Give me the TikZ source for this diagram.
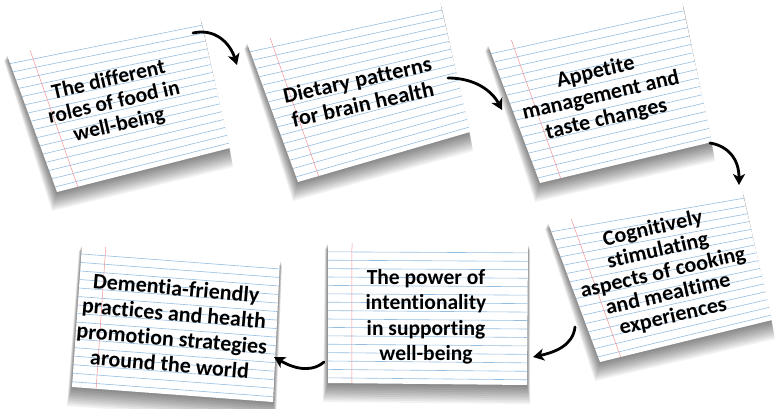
\documentclass[tikz,border=0pt]{standalone}
\usepackage{fontspec}
\setmainfont{Carlito}[Ligatures=NoCommon]
\usetikzlibrary{calc,arrows.meta}
\definecolor{ruleblue}{RGB}{150,190,225}
\definecolor{marginred}{RGB}{240,150,150}
\tikzset{
  cardtext/.style={align=center, text=black, inner sep=0pt},
  flowarrow/.style={line width=2.8pt, line cap=round, -{Stealth[length=11pt,width=12pt,inset=3pt]}},
  ruling/.style={ruleblue, line width=0.6pt},
  marginline/.style={marginred, line width=0.5pt},
}
\newcommand\indexcard[5]{%
  \coordinate (#1tl) at (#2);
  \coordinate (#1tr) at (#3);
  \coordinate (#1br) at (#4);
  \coordinate (#1bl) at (#5);
  \foreach \k in {1,...,10}{
    \fill[black,opacity=0.055] ($(#1tl)+(-0.3*\k,-0.6*\k)$) -- ($(#1tr)+(0.2*\k,-0.6*\k)$) -- ($(#1br)+(0.3*\k,-1.9*\k)$) -- ($(#1bl)+(-0.5*\k,-1.9*\k)$) -- cycle;
  }
  \fill[white] (#1tl) -- (#1tr) -- (#1br) -- (#1bl) -- cycle;
  \foreach \i in {0,...,15}{
    \pgfmathsetmacro\tpos{0.063+\i*0.06}
    \draw[ruling] ($(#1tl)!\tpos!(#1bl)$) -- ($(#1tr)!\tpos!(#1br)$);
  }
  \draw[marginline] ($(#1tl)!0.12!(#1tr)$) -- ($(#1bl)!0.12!(#1br)$);
}
\begin{document}
\begin{tikzpicture}[x=1pt,y=1pt]
\useasboundingbox[fill=white] (0,0) rectangle (776,409);
% cards
\indexcard{k1}{7,354}{200,392}{230,261}{57,217}
\indexcard{k2}{247,366}{440,407}{470,277}{298,227}
\indexcard{k3}{488,364}{682,407}{712,267}{540,226}
\indexcard{k4}{548,186}{742,219}{772,89}{600,47}
\indexcard{k5}{328,166}{528,165}{527,24}{328,26}
\indexcard{k6}{82,164}{280,149}{273,7}{72,22}
% texts
\node[cardtext, rotate=13, font=\bfseries\fontsize{21.5}{23}\selectfont] (c1) at (114,306) {The different\\roles of food in\\well-being};
\node[cardtext, rotate=12.5, xscale=1.02, font=\bfseries\fontsize{22}{25}\selectfont] (c2) at (360,317) {Dietary patterns\\for brain health};
\node[cardtext, rotate=13, font=\bfseries\fontsize{22}{24}\selectfont] (c3) at (601,313) {Appetite\\management and\\taste changes};
\node[cardtext, rotate=13, xscale=1.03, font=\bfseries\fontsize{21.5}{22.5}\selectfont] (c4) at (663,136) {Cognitively\\stimulating\\aspects of cooking\\and mealtime\\experiences};
\node[cardtext, font=\bfseries\fontsize{21.5}{25.5}\selectfont] (c5) at (426,92) {The power of\\intentionality\\in supporting\\well-being};
\node[cardtext, rotate=-5, font=\bfseries\fontsize{22}{25.5}\selectfont] (c6) at (173,83) {Dementia-friendly\\practices and health\\promotion strategies\\around the world};
% arrows
\coordinate (a1s) at (193,376); \coordinate (a1e) at (237,344);
\coordinate (a2s) at (448,331); \coordinate (a2e) at (502,299);
\coordinate (a3s) at (710,266); \coordinate (a3e) at (739,224);
\coordinate (a4s) at (575,82);  \coordinate (a4e) at (533,52);
\coordinate (a5s) at (324,47);  \coordinate (a5e) at (274,52);
\draw[flowarrow] (a1s) .. controls (215,381) and (230,366) .. (a1e);
\draw[flowarrow] (a2s) .. controls (475,331) and (492,318) .. (a2e);
\draw[flowarrow] (a3s) .. controls (728,263) and (739,250) .. (a3e);
\draw[flowarrow] (a4s) .. controls (573,64) and (556,57) .. (a4e);
\draw[flowarrow] (a5s) .. controls (314,38) and (298,38) .. (a5e);
\end{tikzpicture}
\end{document}
